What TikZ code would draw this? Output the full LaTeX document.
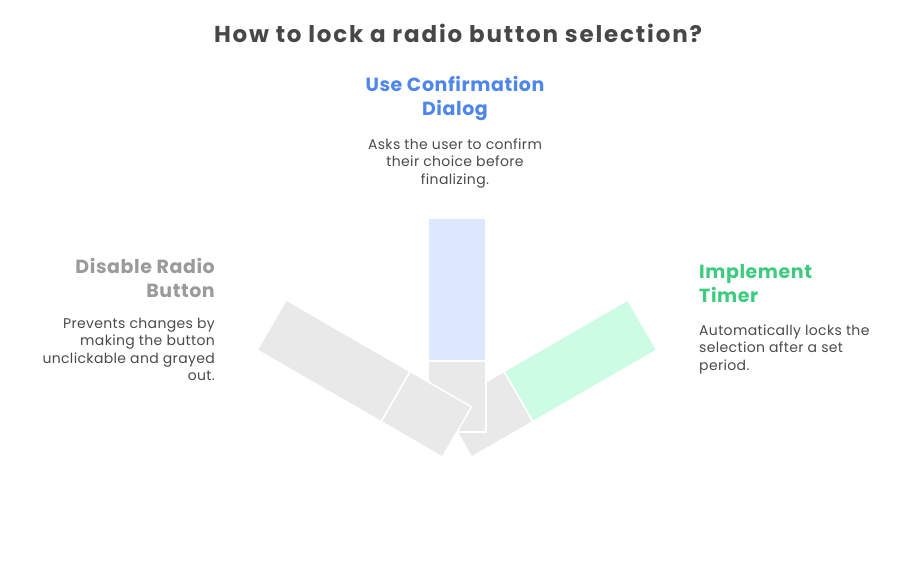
\documentclass[tikz,border=0pt]{standalone}
\usepackage{fontspec}
\setmainfont{Poppins}
\definecolor{titlegrey}{HTML}{474747}
\definecolor{textgrey}{HTML}{4A4A4A}
\definecolor{bargrey}{HTML}{E9E9E9}
\definecolor{barblue}{HTML}{DCE8FE}
\definecolor{bargreen}{HTML}{CCFCE4}
\definecolor{headblue}{HTML}{4F86EA}
\definecolor{headgreen}{HTML}{3DCB80}
\definecolor{headgrey}{HTML}{9A9A9A}
\newcommand{\lockbar}[3]{%
 \begin{scope}[shift={(457,432)},rotate=#1]%
  \filldraw[fill=#2,draw=white,line width=1.5pt] (-29,0) rectangle (29,-71);%
  \filldraw[fill=#3,draw=white,line width=1.5pt] (-29,-71) rectangle (29,-214);%
 \end{scope}%
}
\tikzset{
 head/.style={inner sep=0pt,font=\fontsize{19}{24}\selectfont\bfseries\addfontfeature{LetterSpace=3}},
 desc/.style={inner sep=0pt,text=textgrey,font=\fontsize{14}{17.5}\selectfont\addfontfeature{LetterSpace=2.5}}
}

\begin{document}
\begin{tikzpicture}[x=1pt,y=-1pt]
  \useasboundingbox (0,0) rectangle (914,579);
  \lockbar{-60}{bargrey}{bargreen};
  \lockbar{0}{bargrey}{barblue};
  \lockbar{60}{bargrey}{bargrey};
  \node (title) [inner sep=0pt,text=titlegrey,font=\fontsize{23}{27}\selectfont\bfseries\addfontfeature{LetterSpace=8}] at (458,33) {How to lock a radio button selection?};
  \node (confirm) [head,text=headblue,align=center] at (455,98) {Use Confirmation\\Dialog};
  \node (confirmtxt) [desc,align=center] at (455,163.5) {Asks the user to confirm\\their choice before\\finalizing.};
  \node (disable) [head,text=headgrey,align=right,anchor=east] at (215,278) {Disable Radio\\Button};
  \node (disabletxt) [desc,align=right,anchor=east] at (215,349.5) {Prevents changes by\\making the button\\unclickable and grayed\\out.};
  \node (timer) [head,text=headgreen,align=left,anchor=west] at (699,284) {Implement\\Timer};
  \node (timertxt) [desc,align=left,anchor=west] at (699,349) {Automatically locks the\\selection after a set\\period.};
\end{tikzpicture}
\end{document}
